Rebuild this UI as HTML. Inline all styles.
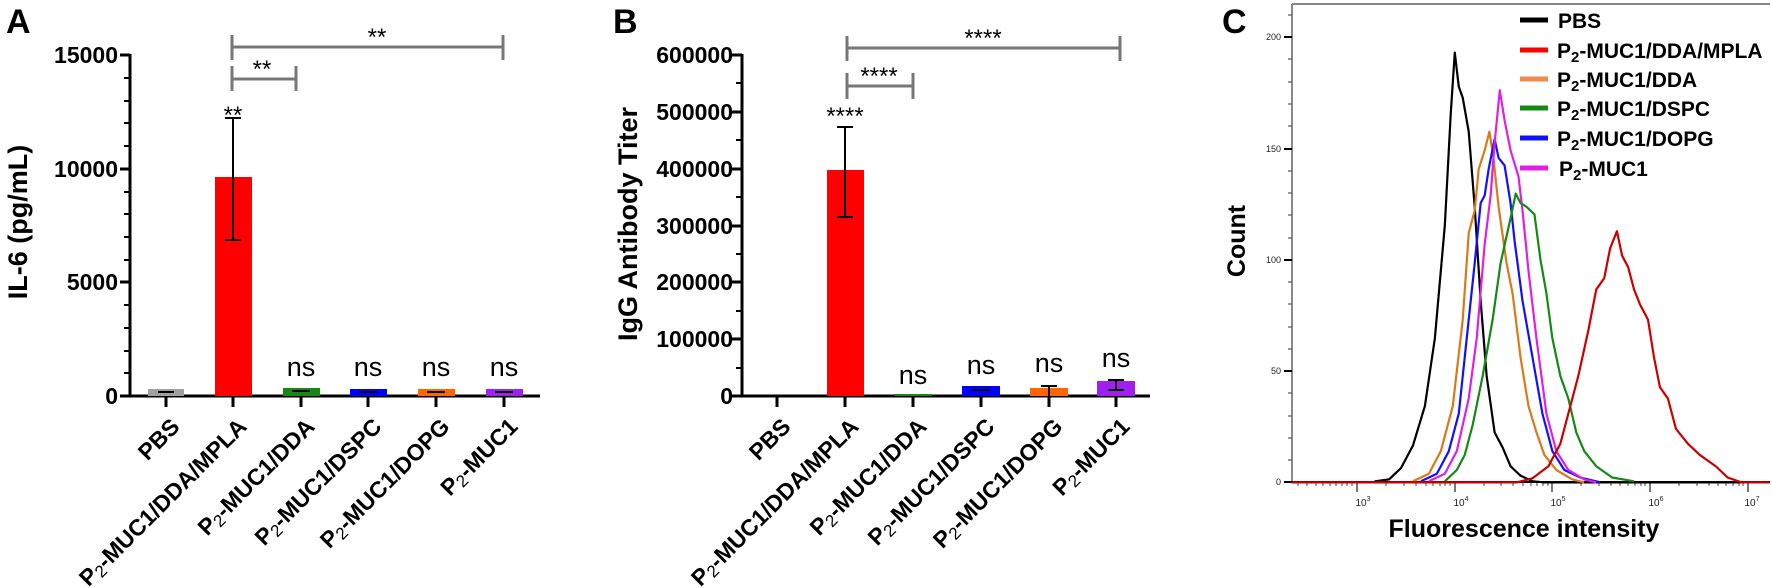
<!DOCTYPE html>
<html><head><meta charset="utf-8"><style>
html,body{margin:0;padding:0;background:#fff;}
svg{display:block;font-family:"Liberation Sans",Arial,sans-serif;}
</style></head><body>
<svg width="1772" height="588" viewBox="0 0 1772 588" xmlns="http://www.w3.org/2000/svg">
<rect width="1772" height="588" fill="#fff"/>

<!-- ============ PANEL A ============ -->
<text x="6" y="33" font-size="34" font-weight="bold">A</text>
<text transform="translate(27,222) rotate(-90)" text-anchor="middle" font-size="27" font-weight="bold">IL-6 (pg/mL)</text>
<g stroke="#000" stroke-width="3">
<line x1="130" y1="54" x2="130" y2="397"/>
<line x1="129" y1="396" x2="540" y2="396"/>
<line x1="120" y1="55" x2="130" y2="55"/>
<line x1="120" y1="169" x2="130" y2="169"/>
<line x1="120" y1="282" x2="130" y2="282"/>
<line x1="120" y1="396" x2="130" y2="396"/>
</g>
<g stroke="#000" stroke-width="2">
<line x1="124" y1="78" x2="130" y2="78"/><line x1="124" y1="101" x2="130" y2="101"/><line x1="124" y1="123" x2="130" y2="123"/><line x1="124" y1="146" x2="130" y2="146"/>
<line x1="124" y1="192" x2="130" y2="192"/><line x1="124" y1="214" x2="130" y2="214"/><line x1="124" y1="237" x2="130" y2="237"/><line x1="124" y1="260" x2="130" y2="260"/>
<line x1="124" y1="305" x2="130" y2="305"/><line x1="124" y1="328" x2="130" y2="328"/><line x1="124" y1="351" x2="130" y2="351"/><line x1="124" y1="373" x2="130" y2="373"/>
</g>
<g stroke="#000" stroke-width="3">
<line x1="166" y1="396" x2="166" y2="407"/><line x1="233" y1="396" x2="233" y2="407"/><line x1="301" y1="396" x2="301" y2="407"/><line x1="368" y1="396" x2="368" y2="407"/><line x1="436" y1="396" x2="436" y2="407"/><line x1="504" y1="396" x2="504" y2="407"/>
</g>
<g font-size="23" font-weight="bold" text-anchor="end">
<text x="118" y="63">15000</text>
<text x="118" y="177">10000</text>
<text x="118" y="290">5000</text>
<text x="118" y="404">0</text>
</g>
<rect x="148" y="389" width="36" height="7" fill="#a0a0a0"/>
<rect x="215" y="177" width="37" height="219" fill="#ff0000"/>
<rect x="283" y="388" width="37" height="8" fill="#138a13"/>
<rect x="350" y="389" width="37" height="7" fill="#0000ff"/>
<rect x="418" y="389" width="37" height="7" fill="#ff6600"/>
<rect x="486" y="389" width="37" height="7" fill="#a020f0"/>
<g stroke="#000" stroke-width="2">
<line x1="233" y1="118" x2="233" y2="240"/><line x1="225" y1="118" x2="241" y2="118"/><line x1="225" y1="240" x2="241" y2="240"/>
<line x1="158" y1="392" x2="174" y2="392"/><line x1="292" y1="391" x2="310" y2="391"/><line x1="359" y1="392" x2="377" y2="392"/><line x1="427" y1="392" x2="445" y2="392"/><line x1="495" y1="392" x2="513" y2="392"/>
</g>
<g stroke="#777" stroke-width="3">
<line x1="232" y1="47" x2="503" y2="47"/><line x1="232" y1="35" x2="232" y2="60"/><line x1="503" y1="35" x2="503" y2="60"/>
<line x1="232" y1="79" x2="296" y2="79"/><line x1="232" y1="66" x2="232" y2="91"/><line x1="296" y1="66" x2="296" y2="91"/>
</g>
<g font-size="24" text-anchor="middle">
<text x="377" y="45">**</text>
<text x="262" y="77">**</text>
<text x="233" y="123">**</text>
</g>
<g font-size="27" text-anchor="middle">
<text x="301" y="376">ns</text><text x="368" y="376">ns</text><text x="436" y="376">ns</text><text x="504" y="376">ns</text>
</g>
<g font-size="23" font-weight="bold" text-anchor="end">
<text transform="translate(181,428) rotate(-45)">PBS</text>
<text transform="translate(248,428) rotate(-45)">P<tspan font-size="17" font-weight="normal" dy="3">2</tspan><tspan dy="-3">-MUC1/DDA/MPLA</tspan></text>
<text transform="translate(316,428) rotate(-45)">P<tspan font-size="17" font-weight="normal" dy="3">2</tspan><tspan dy="-3">-MUC1/DDA</tspan></text>
<text transform="translate(383,428) rotate(-45)">P<tspan font-size="17" font-weight="normal" dy="3">2</tspan><tspan dy="-3">-MUC1/DSPC</tspan></text>
<text transform="translate(451,428) rotate(-45)">P<tspan font-size="17" font-weight="normal" dy="3">2</tspan><tspan dy="-3">-MUC1/DOPG</tspan></text>
<text transform="translate(519,428) rotate(-45)">P<tspan font-size="17" font-weight="normal" dy="3">2</tspan><tspan dy="-3">-MUC1</tspan></text>
</g>

<!-- ============ PANEL B ============ -->
<text x="613" y="33" font-size="34" font-weight="bold">B</text>
<text transform="translate(637,224) rotate(-90)" text-anchor="middle" font-size="27" font-weight="bold">IgG Antibody Titer</text>
<g stroke="#000" stroke-width="3">
<line x1="742" y1="54" x2="742" y2="397"/>
<line x1="741" y1="396" x2="1150" y2="396"/>
<line x1="732" y1="55" x2="742" y2="55"/><line x1="732" y1="112" x2="742" y2="112"/><line x1="732" y1="169" x2="742" y2="169"/><line x1="732" y1="226" x2="742" y2="226"/><line x1="732" y1="282" x2="742" y2="282"/><line x1="732" y1="339" x2="742" y2="339"/><line x1="732" y1="396" x2="742" y2="396"/>
</g>
<g stroke="#000" stroke-width="2">
<line x1="736" y1="83" x2="742" y2="83"/><line x1="736" y1="140" x2="742" y2="140"/><line x1="736" y1="197" x2="742" y2="197"/><line x1="736" y1="254" x2="742" y2="254"/><line x1="736" y1="311" x2="742" y2="311"/><line x1="736" y1="368" x2="742" y2="368"/>
</g>
<g stroke="#000" stroke-width="3">
<line x1="777" y1="396" x2="777" y2="407"/><line x1="845" y1="396" x2="845" y2="407"/><line x1="913" y1="396" x2="913" y2="407"/><line x1="981" y1="396" x2="981" y2="407"/><line x1="1049" y1="396" x2="1049" y2="407"/><line x1="1116" y1="396" x2="1116" y2="407"/>
</g>
<g font-size="23" font-weight="bold" text-anchor="end">
<text x="733" y="63">600000</text><text x="733" y="120">500000</text><text x="733" y="177">400000</text><text x="733" y="234">300000</text><text x="733" y="290">200000</text><text x="733" y="347">100000</text><text x="733" y="404">0</text>
</g>
<rect x="827" y="170" width="37" height="226" fill="#ff0000"/>
<rect x="895" y="394" width="37" height="2" fill="#138a13"/>
<rect x="962" y="386" width="38" height="10" fill="#0000ff"/>
<rect x="1030" y="388" width="38" height="8" fill="#ff6600"/>
<rect x="1097" y="381" width="38" height="15" fill="#a020f0"/>
<g stroke="#000" stroke-width="2">
<line x1="845" y1="127" x2="845" y2="217"/><line x1="837" y1="127" x2="853" y2="127"/><line x1="837" y1="217" x2="853" y2="217"/>
<line x1="972" y1="390" x2="990" y2="390"/>
<line x1="1049" y1="386" x2="1049" y2="396"/><line x1="1041" y1="386" x2="1057" y2="386"/>
<line x1="1116" y1="380" x2="1116" y2="390"/><line x1="1108" y1="380" x2="1124" y2="380"/><line x1="1108" y1="390" x2="1124" y2="390"/>
</g>
<g stroke="#777" stroke-width="3">
<line x1="847" y1="48" x2="1120" y2="48"/><line x1="847" y1="36" x2="847" y2="61"/><line x1="1120" y1="36" x2="1120" y2="61"/>
<line x1="847" y1="86" x2="913" y2="86"/><line x1="847" y1="73" x2="847" y2="99"/><line x1="913" y1="73" x2="913" y2="99"/>
</g>
<g font-size="24" text-anchor="middle">
<text x="983" y="46">****</text>
<text x="879" y="84">****</text>
<text x="845" y="124">****</text>
</g>
<g font-size="27" text-anchor="middle">
<text x="913" y="384">ns</text><text x="981" y="374">ns</text><text x="1049" y="372">ns</text><text x="1116" y="367">ns</text>
</g>
<g font-size="23" font-weight="bold" text-anchor="end">
<text transform="translate(792,428) rotate(-45)">PBS</text>
<text transform="translate(860,428) rotate(-45)">P<tspan font-size="17" font-weight="normal" dy="3">2</tspan><tspan dy="-3">-MUC1/DDA/MPLA</tspan></text>
<text transform="translate(928,428) rotate(-45)">P<tspan font-size="17" font-weight="normal" dy="3">2</tspan><tspan dy="-3">-MUC1/DDA</tspan></text>
<text transform="translate(996,428) rotate(-45)">P<tspan font-size="17" font-weight="normal" dy="3">2</tspan><tspan dy="-3">-MUC1/DSPC</tspan></text>
<text transform="translate(1064,428) rotate(-45)">P<tspan font-size="17" font-weight="normal" dy="3">2</tspan><tspan dy="-3">-MUC1/DOPG</tspan></text>
<text transform="translate(1131,428) rotate(-45)">P<tspan font-size="17" font-weight="normal" dy="3">2</tspan><tspan dy="-3">-MUC1</tspan></text>
</g>

<!-- ============ PANEL C ============ -->
<text x="1222" y="33" font-size="34" font-weight="bold">C</text>
<text transform="translate(1245,241) rotate(-90)" text-anchor="middle" font-size="25" font-weight="bold">Count</text>
<text x="1524" y="537" text-anchor="middle" font-size="25" font-weight="bold">Fluorescence intensity</text>
<g stroke="#888" stroke-width="2" fill="none">
<line x1="1292" y1="4" x2="1770" y2="4"/>
<line x1="1292" y1="4" x2="1292" y2="483"/>
</g>
<line x1="1291" y1="482" x2="1770" y2="482" stroke="#000" stroke-width="2"/>
<g stroke="#000" stroke-width="2">
<line x1="1284" y1="37" x2="1292" y2="37"/><line x1="1284" y1="149" x2="1292" y2="149"/><line x1="1284" y1="260" x2="1292" y2="260"/><line x1="1284" y1="371" x2="1292" y2="371"/><line x1="1284" y1="482" x2="1292" y2="482"/>
</g>
<g stroke="#555" stroke-width="1.2">
<line x1="1288" y1="15" x2="1292" y2="15"/>
<line x1="1288" y1="59" x2="1292" y2="59"/><line x1="1288" y1="82" x2="1292" y2="82"/><line x1="1288" y1="104" x2="1292" y2="104"/><line x1="1288" y1="126" x2="1292" y2="126"/>
<line x1="1288" y1="171" x2="1292" y2="171"/><line x1="1288" y1="193" x2="1292" y2="193"/><line x1="1288" y1="215" x2="1292" y2="215"/><line x1="1288" y1="238" x2="1292" y2="238"/>
<line x1="1288" y1="282" x2="1292" y2="282"/><line x1="1288" y1="304" x2="1292" y2="304"/><line x1="1288" y1="327" x2="1292" y2="327"/><line x1="1288" y1="349" x2="1292" y2="349"/>
<line x1="1288" y1="393" x2="1292" y2="393"/><line x1="1288" y1="416" x2="1292" y2="416"/><line x1="1288" y1="438" x2="1292" y2="438"/><line x1="1288" y1="460" x2="1292" y2="460"/>
</g>
<g font-size="9" text-anchor="end" fill="#222">
<text x="1281" y="40">200</text><text x="1281" y="152">150</text><text x="1281" y="263">100</text><text x="1281" y="374">50</text><text x="1281" y="485">0</text>
</g>
<g stroke="#333" stroke-width="1.3">
<line x1="1357" y1="482" x2="1357" y2="492"/><line x1="1455" y1="482" x2="1455" y2="492"/><line x1="1552" y1="482" x2="1552" y2="492"/><line x1="1650" y1="482" x2="1650" y2="492"/><line x1="1748" y1="482" x2="1748" y2="492"/>
</g>
<g stroke="#444" stroke-width="1">
<path d="M1298 482v4M1307 482v4M1316 482v4M1323 482v4M1330 482v4M1336 482v4M1342 482v4M1347 482v4M1352 482v4
M1386 482v4M1404 482v4M1416 482v4M1426 482v4M1433 482v4M1440 482v4M1445 482v4M1450 482v4
M1484 482v4M1501 482v4M1513 482v4M1523 482v4M1531 482v4M1537 482v4M1543 482v4M1548 482v4
M1581 482v4M1599 482v4M1611 482v4M1620 482v4M1628 482v4M1635 482v4M1641 482v4M1645 482v4
M1679 482v4M1697 482v4M1709 482v4M1718 482v4M1726 482v4M1733 482v4M1739 482v4M1743 482v4"/>
</g>
<g font-size="10" fill="#222" text-anchor="middle">
<text x="1363" y="506">10<tspan font-size="7" dy="-5">3</tspan></text>
<text x="1461" y="506">10<tspan font-size="7" dy="-5">4</tspan></text>
<text x="1558" y="506">10<tspan font-size="7" dy="-5">5</tspan></text>
<text x="1656" y="506">10<tspan font-size="7" dy="-5">6</tspan></text>
<text x="1752" y="506">10<tspan font-size="7" dy="-5">7</tspan></text>
</g>
<g transform="translate(1150,0) scale(0.3984,0.376)" fill="none" stroke-width="2.2" stroke-linejoin="round">
<polyline vector-effect="non-scaling-stroke" stroke="#000" points="355,1283 565,1283 565,1280 600,1275 630,1245 660,1185 690,1080 715,900 740,600 755,300 765,140 775,230 785,260 800,350 815,550 830,800 845,1000 865,1150 885,1190 905,1240 930,1265 960,1280 990,1283 1555,1283"/>
<polyline vector-effect="non-scaling-stroke" stroke="#d97a1a" points="660,1280 700,1260 730,1200 760,1080 785,850 800,620 815,560 825,450 840,400 852,350 862,420 875,550 895,700 910,780 930,950 950,1080 970,1150 990,1210 1020,1250 1060,1275 1090,1283"/>
<polyline vector-effect="non-scaling-stroke" stroke="#1010ff" points="680,1280 720,1260 750,1200 775,1100 795,900 815,700 830,540 840,520 850,450 865,370 875,420 890,440 905,540 915,640 935,800 960,950 985,1100 1010,1200 1040,1250 1080,1270 1120,1280 1130,1283"/>
<polyline vector-effect="non-scaling-stroke" stroke="#e020e0" points="700,1280 740,1260 770,1200 800,1060 820,900 840,650 855,520 865,380 878,240 890,320 905,400 925,470 935,560 950,720 970,900 995,1100 1020,1200 1050,1250 1090,1275 1120,1283"/>
<polyline vector-effect="non-scaling-stroke" stroke="#138a13" points="740,1280 770,1250 790,1210 810,1130 835,1000 860,850 880,700 905,580 918,515 930,540 945,550 965,570 980,690 995,780 1010,900 1030,1000 1050,1060 1070,1150 1090,1200 1120,1240 1160,1270 1215,1280"/>
<polyline vector-effect="non-scaling-stroke" stroke="#cc0000" points="355,1283 920,1283 960,1272 1000,1240 1030,1180 1050,1100 1075,1000 1100,880 1120,770 1140,740 1155,660 1172,615 1185,680 1200,710 1215,770 1230,810 1250,850 1265,950 1280,1030 1300,1060 1320,1140 1350,1180 1380,1210 1420,1240 1450,1270 1485,1283 1555,1283"/>
</g>
<g stroke-width="5">
<line x1="1520" y1="20" x2="1548" y2="20" stroke="#000"/>
<line x1="1520" y1="50" x2="1548" y2="50" stroke="#ff0000"/>
<line x1="1520" y1="79" x2="1548" y2="79" stroke="#f08a50"/>
<line x1="1520" y1="108" x2="1548" y2="108" stroke="#138a13"/>
<line x1="1520" y1="138" x2="1548" y2="138" stroke="#1010ff"/>
<line x1="1520" y1="168" x2="1548" y2="168" stroke="#e020e0"/>
</g>
<g font-size="21" font-weight="bold">
<text x="1558" y="28">PBS</text>
<text x="1557" y="58">P<tspan font-size="15" dy="4">2</tspan><tspan dy="-4">-MUC1/DDA/MPLA</tspan></text>
<text x="1557" y="87">P<tspan font-size="15" dy="4">2</tspan><tspan dy="-4">-MUC1/DDA</tspan></text>
<text x="1557" y="116">P<tspan font-size="15" dy="4">2</tspan><tspan dy="-4">-MUC1/DSPC</tspan></text>
<text x="1557" y="146">P<tspan font-size="15" dy="4">2</tspan><tspan dy="-4">-MUC1/DOPG</tspan></text>
<text x="1559" y="176">P<tspan font-size="15" dy="4">2</tspan><tspan dy="-4">-MUC1</tspan></text>
</g>
</svg>
</body></html>
